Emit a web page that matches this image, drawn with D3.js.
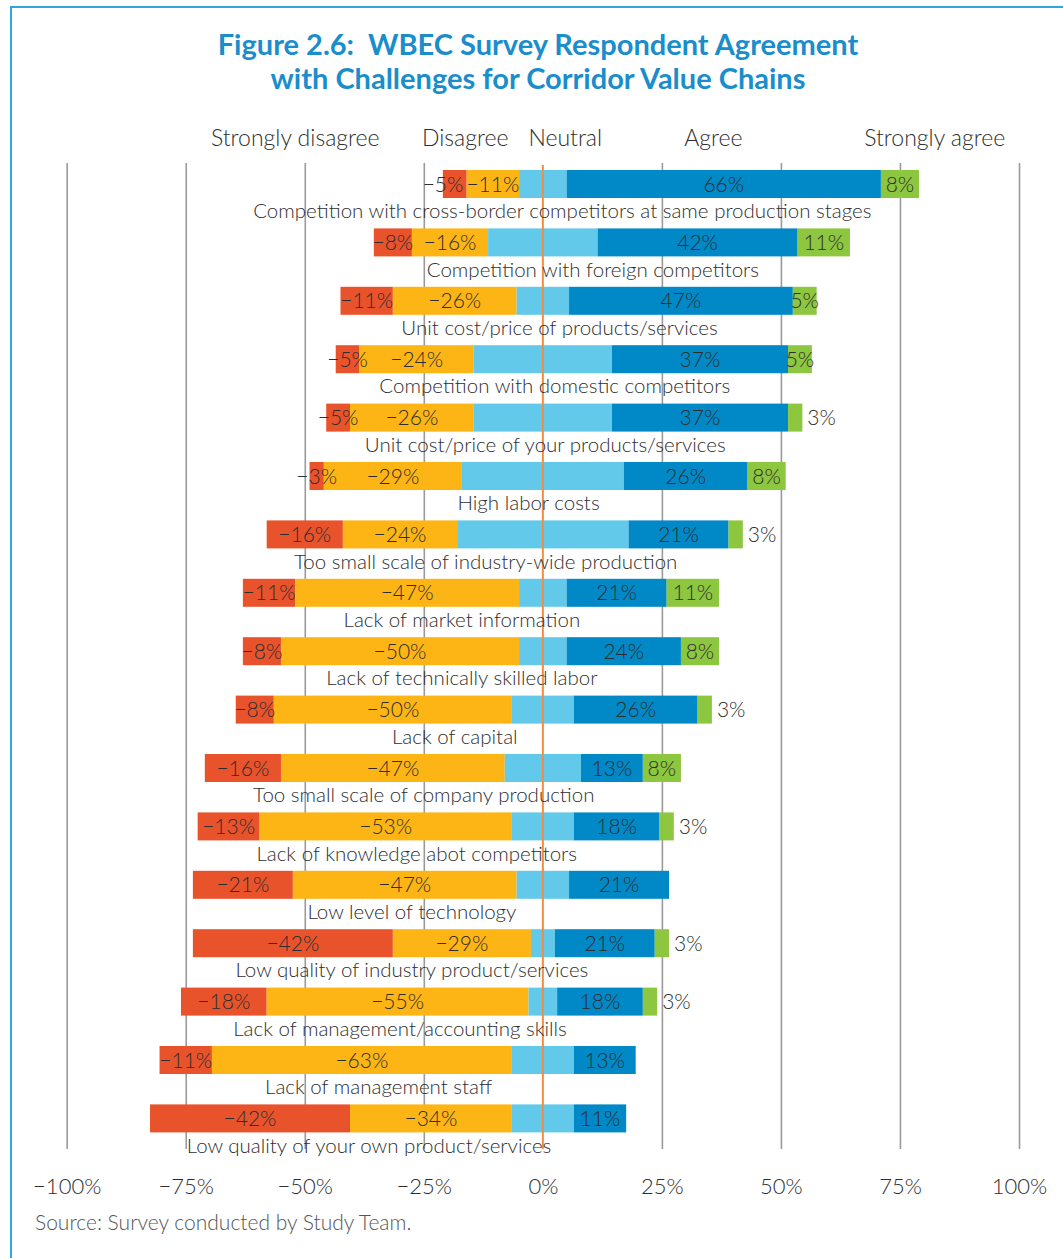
<!DOCTYPE html>
<html>
<head>
<meta charset="utf-8">
<script src="https://cdn.jsdelivr.net/npm/d3@7"></script>
<style>
  html, body { margin: 0; padding: 0; background: #fff; }
  svg { display: block; font-family: Lato, "Open Sans", sans-serif; }
  .title { white-space: pre; }
</style>
</head>
<body>
<svg id="chart" width="1063" height="1258"></svg>
<script>
// Challenges for corridor value chains, share of respondents (%)
const categories = [
  "Competition with cross-border competitors at same production stages",
  "Competition with foreign competitors",
  "Unit cost/price of products/services",
  "Competition with domestic competitors",
  "Unit cost/price of your products/services",
  "High labor costs",
  "Too small scale of industry-wide production",
  "Lack of market information",
  "Lack of technically skilled labor",
  "Lack of capital",
  "Too small scale of company production",
  "Lack of knowledge abot competitors",
  "Low level of technology",
  "Low quality of industry product/services",
  "Lack of management/accounting skills",
  "Lack of management staff",
  "Low quality of your own product/services"
];
const stronglyDisagree = [5, 8, 11, 5, 5, 3, 16, 11, 8, 8, 16, 13, 21, 42, 18, 11, 42];
const disagree         = [11, 16, 26, 24, 26, 29, 24, 47, 50, 50, 47, 53, 47, 29, 55, 63, 34];
const neutral          = [10, 23, 11, 29, 29, 34, 36, 10, 10, 13, 16, 13, 11, 5, 6, 13, 13];
const agree            = [66, 42, 47, 37, 37, 26, 21, 21, 24, 26, 13, 18, 21, 21, 18, 13, 11];
const stronglyAgree    = [8, 11, 5, 5, 3, 8, 3, 11, 8, 3, 8, 3, 0, 3, 3, 0, 0];

const responseLevels = ["Strongly disagree", "Disagree", "Neutral", "Agree", "Strongly agree"];
const tickValues = [-100, -75, -50, -25, 0, 25, 50, 75, 100];

const titleLines = [
  "Figure 2.6:  WBEC Survey Respondent Agreement",
  "with Challenges for Corridor Value Chains"
];
const sourceNote = "Source: Survey conducted by Study Team.";

// ---- styling / layout ----
const colors = ["#e9532b", "#fdb515", "#62c9ea", "#0088c7", "#8dc63f"];
const headerAt = [-52, -16.3, 4.7, 35.8, 82.3];   // header anchors in axis units
const textColor = "#2e2e2e";
const minus = "\u2212";

const svg = d3.select("#chart");
const W = 1063, H = 1258;

const x = d3.scaleLinear().domain([-100, 100]).range([66.7, 1019]);
const y = d3.scalePoint().domain(categories).range([184, 1118.4]);
const barH = 28;
const gridTop = 163, gridBottom = 1149;

// frame
svg.append("path")
  .attr("d", `M11,${H} L11,7 L${W},7`)
  .attr("fill", "none").attr("stroke", "#2fa6de").attr("stroke-width", 2);

// title
svg.append("g").selectAll("text").data(titleLines).join("text")
  .attr("class", "title")
  .attr("x", 538).attr("y", (d, i) => 55 + i * 34)
  .attr("text-anchor", "middle")
  .attr("fill", "#1a8dcc").attr("font-weight", 700).attr("font-size", 29)
  .text(d => d);

// response level headers
svg.append("g").selectAll("text").data(responseLevels).join("text")
  .attr("x", (d, i) => x(headerAt[i])).attr("y", 138)
  .attr("dy", "0.35em").attr("text-anchor", "middle")
  .attr("fill", textColor).attr("font-size", 23).attr("font-weight", 300)
  .text(d => d);

// gridlines + percent axis
const axis = d3.axisBottom(x)
  .tickValues(tickValues)
  .tickSize(-(gridBottom - gridTop))
  .tickPadding(29)
  .tickFormat(d => (d < 0 ? minus + Math.abs(d) : d) + "%");
const gAxis = svg.append("g").attr("transform", `translate(0,${gridBottom})`).call(axis);
gAxis.select(".domain").remove();
gAxis.selectAll(".tick line").attr("stroke", "#9a9a9a").attr("stroke-width", 1.6)
  .attr("opacity", d => d === 0 ? 0 : 1);
gAxis.selectAll(".tick text")
  .attr("fill", textColor).attr("font-size", 22).attr("font-weight", 300)
  .attr("font-family", "Lato, sans-serif");

// stacked segments, neutral split evenly around zero
const rows = categories.map((c, i) => {
  const vals = [stronglyDisagree[i], disagree[i], neutral[i], agree[i], stronglyAgree[i]];
  let start = -(vals[0] + vals[1] + vals[2] / 2);
  const segs = vals.map((v, k) => {
    const s = { cat: c, row: i, k, v, x0: start, x1: start + v };
    start += v;
    return s;
  });
  return { cat: c, segs, left: segs[0].x0, right: segs[4].x1 };
});

const gBars = svg.append("g");
gBars.selectAll("g").data(rows).join("g")
  .attr("transform", d => `translate(0,${y(d.cat) - barH / 2})`)
  .selectAll("rect").data(d => d.segs.filter(s => s.v > 0)).join("rect")
  .attr("x", s => x(s.x0))
  .attr("width", s => x(s.x1) - x(s.x0))
  .attr("height", barH)
  .attr("fill", s => colors[s.k]);

// zero line
svg.append("line")
  .attr("x1", x(0)).attr("x2", x(0))
  .attr("y1", 165).attr("y2", gridBottom)
  .attr("stroke", "#f08c44").attr("stroke-width", 2);

// value labels
const outside = s => s.k === 4 && s.v <= 3;
const labelSegs = rows.flatMap(r => r.segs.filter(s => s.v > 0 && s.k !== 2));
const valueText = svg.append("g").selectAll("text").data(labelSegs).join("text")
  .attr("x", s => outside(s) ? x(s.x1) + 5 : (x(s.x0) + x(s.x1)) / 2)
  .attr("y", s => y(s.cat))
  .attr("dy", "0.36em")
  .attr("text-anchor", s => outside(s) ? "start" : "middle")
  .attr("fill", textColor).attr("font-size", 21).attr("font-weight", 300)
  .text(s => (s.k < 2 ? minus : "") + s.v + "%");

// keep a narrow strongly-disagree label clear of its neighbour
const byKey = new Map();
valueText.each(function(s) { byKey.set(s.row + "-" + s.k, this); });
valueText.filter(s => s.k === 0).each(function(s) {
  const nb = byKey.get(s.row + "-1");
  if (!nb) return;
  const a = this.getBBox(), b = nb.getBBox();
  const overlap = a.x + a.width + 3 - b.x;
  if (overlap > 0) d3.select(this).attr("x", +d3.select(this).attr("x") - overlap);
});

// category labels under each bar
const catText = svg.append("g").selectAll("text").data(rows).join("text")
  .attr("y", d => y(d.cat) + 27)
  .attr("dy", "0.35em")
  .attr("text-anchor", "middle")
  .attr("fill", textColor).attr("font-size", 20.5).attr("font-weight", 300)
  .text(d => d.cat);
catText.attr("x", function(d) {
  const w = this.getComputedTextLength();
  let cx = x(d.left) + 0.46 * (x(d.right) - x(d.left));
  const maxRight = x(69);
  if (cx + w / 2 > maxRight) cx = maxRight - w / 2;
  return cx;
});

// source
svg.append("text")
  .attr("x", 35).attr("y", 1223).attr("dy", "0.35em")
  .attr("fill", "#555").attr("font-size", 21).attr("font-weight", 300)
  .text(sourceNote);
</script>
</body>
</html>
